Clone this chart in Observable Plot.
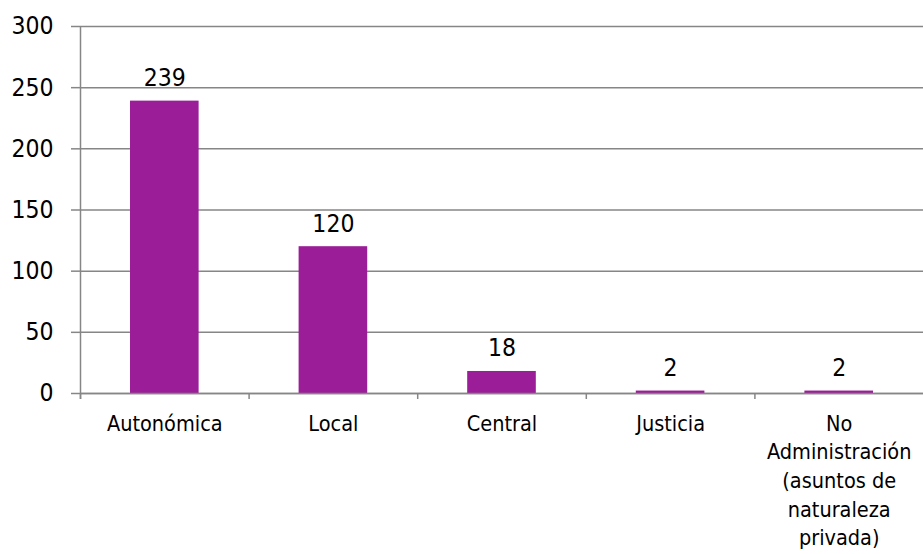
<!DOCTYPE html>
<html>
<head>
<meta charset="utf-8">
<script src="https://cdn.jsdelivr.net/npm/d3@7"></script>
<script src="https://cdn.jsdelivr.net/npm/@observablehq/plot@0.6"></script>
<style>
  html, body { margin: 0; padding: 0; background: #fff; }
  #chart svg { display: block; }
</style>
</head>
<body>
<div id="chart"></div>
<script>
const categories = ["Autonómica", "Local", "Central", "Justicia", "No Administración (asuntos de naturaleza privada)"];
const labels = ["Autonómica", "Local", "Central", "Justicia", "No\nAdministración\n(asuntos de\nnaturaleza\nprivada)"];
const values = [239, 120, 18, 2, 2];
const yTicks = [0, 50, 100, 150, 200, 250, 300];

const data = categories.map((c, i) => ({cat: c, value: values[i]}));
const labelOf = new Map(categories.map((c, i) => [c, labels[i]]));

const W = 923, H = 554;
const mL = 80, mR = 0, mT = 26, mB = 161;
const step = (W - mL - mR) / categories.length;
const grid = "#868686";
const font = "'DejaVu Sans Condensed', 'DejaVu Sans', sans-serif";

const chart = Plot.plot({
  width: W,
  height: H,
  marginLeft: mL,
  marginRight: mR,
  marginTop: mT,
  marginBottom: mB,
  style: {fontFamily: font, color: "#000", background: "#fff"},
  x: {domain: categories, padding: 0, round: false, label: null},
  y: {domain: [0, 300], label: null},
  marks: [
    Plot.gridY(yTicks, {stroke: grid, strokeOpacity: 1, strokeWidth: 1.5}),
    Plot.axisY(yTicks, {tickSize: 9, tickPadding: 18, stroke: grid, strokeWidth: 1.5, fontSize: 24.5, fill: "#000", label: null}),
    Plot.barY(data, {x: "cat", y: "value", fill: "#9B1D98", insetLeft: 50, insetRight: 50}),
    Plot.ruleY([0], {stroke: grid, strokeWidth: 1.5}),
    Plot.ruleX(categories, {x: d => d, dx: -step / 2, stroke: grid, strokeWidth: 1.5, insetTop: H - mB - mT, insetBottom: -6}),
    Plot.ruleX([categories[0]], {x: d => d, dx: -step / 2, stroke: grid, strokeWidth: 1.5, insetBottom: -6}),
    Plot.text(data, {x: "cat", y: "value", text: d => String(d.value), dy: -15, lineAnchor: "bottom", fontSize: 24.5, fill: "#000"}),
    Plot.axisX({tickSize: 0, tickPadding: 17, fontSize: 21.5, lineHeight: 1.33, fill: "#000", tickFormat: d => labelOf.get(d), label: null, textOverflow: null, lineWidth: Infinity})
  ]
});
document.getElementById("chart").appendChild(chart);
</script>
</body>
</html>
